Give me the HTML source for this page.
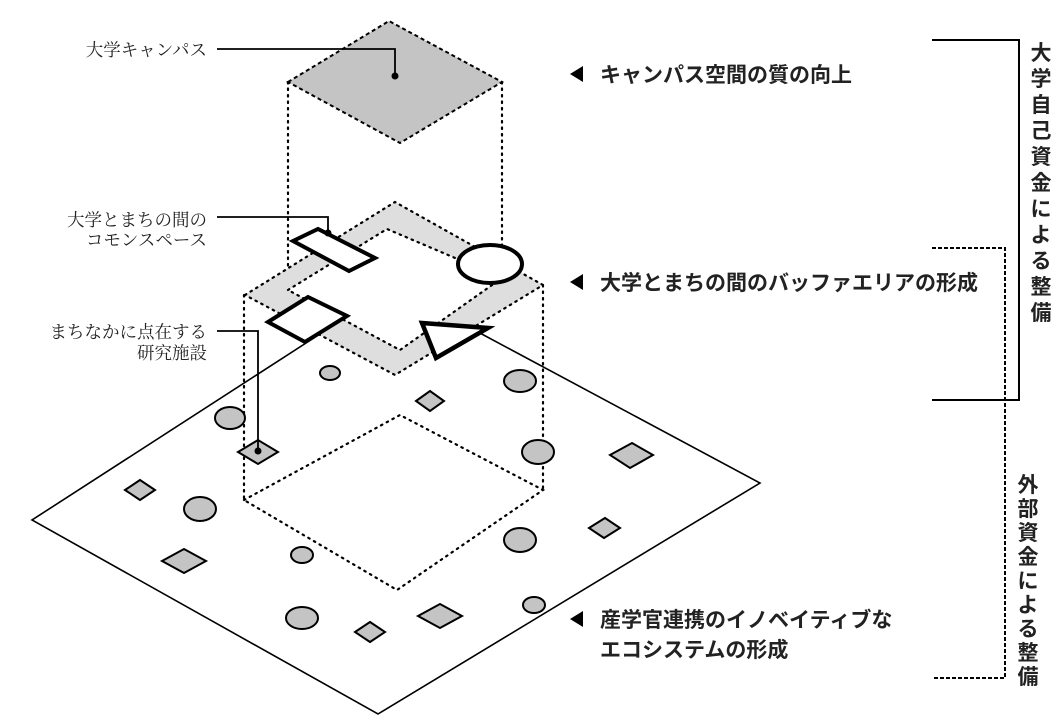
<!DOCTYPE html>
<html><head><meta charset="utf-8"><style>
html,body{margin:0;padding:0;background:#fff;}
svg{display:block;}
.t{font-family:"Liberation Sans","Noto Sans CJK JP",sans-serif;}
.s{font-family:"Liberation Serif","Noto Serif CJK SC",serif;}
</style></head><body>
<svg width="1058" height="720" viewBox="0 0 1058 720" xmlns="http://www.w3.org/2000/svg">
<!-- base plane -->
<polyline points="320,334 32,520 378,714 760,483 478,332" fill="none" stroke="#000" stroke-width="1.6"/>
<!-- top diamond -->
<polygon points="288,82 389,21 502,82 400,143" fill="#c4c4c4" stroke="#000" stroke-width="2" stroke-dasharray="4,3"/>
<g stroke="#000" stroke-width="2.2" stroke-dasharray="1.5,5" fill="none" stroke-linecap="round">
<line x1="288" y1="82" x2="288" y2="290"/>
<line x1="502" y1="82" x2="502" y2="278"/>
<line x1="244" y1="295" x2="244" y2="500"/>
<line x1="543" y1="285" x2="543" y2="490"/>
<polygon points="244,500 400,415 543,490 397,590"/>
</g>
<!-- ring -->
<path d="M245,295 L395,202 L543,285 L395,375 Z M288,290 L400,350 L502,278 L387,229 Z" fill="#dedede" fill-rule="evenodd"/>
<g stroke="#000" stroke-width="2.2" stroke-dasharray="1.5,5" fill="none" stroke-linecap="round">
<polygon points="245,295 395,202 543,285 395,375"/>
<polygon points="288,290 387,229 502,278 400,350"/>
</g>
<!-- thick shapes -->
<polygon points="293,241 318,229 375,258 349,271" fill="#fff" stroke="#000" stroke-width="4"/>
<ellipse cx="490" cy="264" rx="32" ry="19" fill="#fff" stroke="#000" stroke-width="4"/>
<polygon points="268,322 308,297 347,316 305,342" fill="#fff" stroke="#000" stroke-width="4"/>
<polygon points="422,323 488,328 436,358" fill="#fff" stroke="#000" stroke-width="4.5"/>
<!-- small shapes -->
<g fill="#c4c4c4" stroke="#000" stroke-width="2">
<ellipse cx="330" cy="373" rx="10" ry="7"/>
<ellipse cx="520" cy="381" rx="16" ry="11"/>
<ellipse cx="230" cy="418" rx="15" ry="11"/>
<ellipse cx="538" cy="452" rx="16" ry="12"/>
<ellipse cx="200" cy="509" rx="16" ry="12"/>
<ellipse cx="520" cy="540" rx="16" ry="12"/>
<ellipse cx="302" cy="555" rx="11" ry="8"/>
<ellipse cx="302" cy="618" rx="16" ry="11"/>
<ellipse cx="534" cy="605" rx="11" ry="8"/>
<polygon points="416,401 430,391 444,401 430,411"/>
<polygon points="238,452 258,440 278,452 258,464"/>
<polygon points="610,455 632,443 653,455 630,468"/>
<polygon points="589,528 605,518 620,528 604,538"/>
<polygon points="125,490 140,480 155,490 140,500"/>
<polygon points="162,561 184,549 206,561 184,573"/>
<polygon points="418,616 440,604 462,616 440,628"/>
<polygon points="355,632 370,622 385,632 370,642"/>
</g>
<!-- leader lines -->
<g stroke="#000" stroke-width="1.8" fill="none">
<polyline points="217,49 395,49 395,76"/>
<polyline points="217,217 328,217 328,233"/>
<polyline points="217,331 258,331 258,451"/>
</g>
<circle cx="395" cy="76" r="3.5"/><circle cx="328" cy="233" r="3.5"/><circle cx="258" cy="451" r="3.5"/>
<!-- left labels -->
<g class="s" font-size="17.5" fill="#222" text-anchor="end">
<text x="207" y="56">大学キャンパス</text>
<text x="207" y="226">大学とまちの間の</text>
<text x="207" y="246">コモンスペース</text>
<text x="207" y="338">まちなかに点在する</text>
<text x="207" y="359">研究施設</text>
</g>
<!-- right labels -->
<g fill="#000">
<polygon points="570,74 583,66 583,82"/>
<polygon points="570,282 583,274 583,290"/>
<polygon points="570,619 583,611 583,627"/>
</g>
<g class="t" font-size="21" font-weight="bold" fill="#222">
<text x="600" y="82">キャンパス空間の質の向上</text>
<text x="600" y="290">大学とまちの間のバッファエリアの形成</text>
<text x="600" y="627">産学官連携のイノベイティブな</text>
<text x="600" y="657">エコシステムの形成</text>
</g>
<!-- brackets -->
<polyline points="932,40 1019,40 1019,400 932,400" fill="none" stroke="#000" stroke-width="2"/>
<polyline points="932,248 1005,248 1005,678 932,678" fill="none" stroke="#000" stroke-width="2" stroke-dasharray="4,2"/>
<g class="t" font-size="21" font-weight="bold" fill="#222" text-anchor="middle">
<text x="1041" y="60">大</text><text x="1041" y="86">学</text><text x="1041" y="112">自</text><text x="1041" y="138">己</text><text x="1041" y="164">資</text><text x="1041" y="190">金</text><text x="1041" y="216">に</text><text x="1041" y="242">よ</text><text x="1041" y="268">る</text><text x="1041" y="294">整</text><text x="1041" y="320">備</text>
<text x="1028" y="492">外</text><text x="1028" y="516">部</text><text x="1028" y="540">資</text><text x="1028" y="564">金</text><text x="1028" y="588">に</text><text x="1028" y="612">よ</text><text x="1028" y="636">る</text><text x="1028" y="660">整</text><text x="1028" y="684">備</text>
</g>
</svg>
</body></html>
